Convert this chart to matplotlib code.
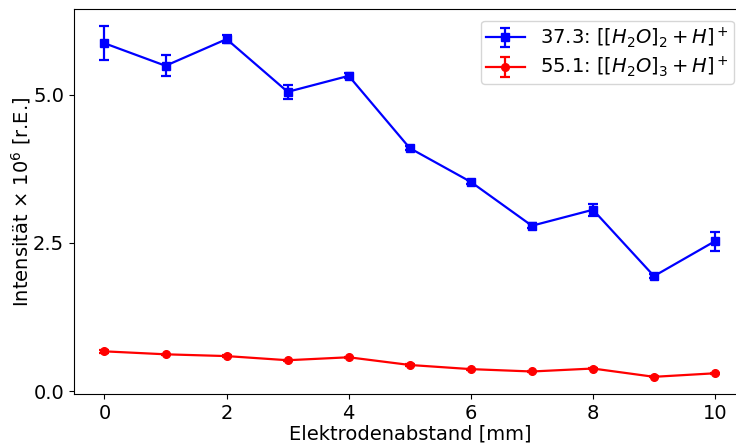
import matplotlib
matplotlib.use("Agg")
import matplotlib.pyplot as plt
import numpy as np

abstand = [0, 1, 2, 3, 4, 5, 6, 7, 8, 9, 10]

dimer = [5.87, 5.49, 5.94, 5.05, 5.32, 4.10, 3.53, 2.79, 3.06, 1.94, 2.53]
dimer_err = [0.29, 0.18, 0.07, 0.12, 0.04, 0.03, 0.03, 0.04, 0.10, 0.03, 0.16]

trimer = [0.67, 0.62, 0.59, 0.52, 0.57, 0.44, 0.37, 0.33, 0.38, 0.24, 0.30]
trimer_err = [0.03, 0.01, 0.01, 0.01, 0.01, 0.01, 0.01, 0.01, 0.01, 0.01, 0.01]

label_dimer = r"37.3: $[[H_2O]_2 + H]^+$"
label_trimer = r"55.1: $[[H_2O]_3 + H]^+$"

fig = plt.figure(figsize=(7.36, 4.45), dpi=100)
ax = fig.add_axes([0.1005, 0.1146, 0.9125, 0.8654])

ax.errorbar(abstand, dimer, yerr=dimer_err, color="blue", marker="s",
            markersize=6, linewidth=1.6, capsize=3.5, elinewidth=1.6,
            capthick=1.6, label=label_dimer)
ax.errorbar(abstand, trimer, yerr=trimer_err, color="red", marker="o",
            markersize=5.5, linewidth=1.6, capsize=3.5, elinewidth=1.6,
            capthick=1.6, label=label_trimer)

ax.set_xlim(-0.5, 10.5)
ax.set_ylim(-0.05, 6.45)
ax.set_xticks([0, 2, 4, 6, 8, 10])
ax.set_yticks([0.0, 2.5, 5.0])
ax.set_yticklabels(["0.0", "2.5", "5.0"])
ax.tick_params(labelsize=14)
ax.set_xlabel("Elektrodenabstand [mm]", fontsize=14, labelpad=1)
ax.set_ylabel(r"Intensität $\times$ $10^6$ [r.E.]", fontsize=14, labelpad=0)
ax.legend(loc="upper right", fontsize=14, labelspacing=0.25,
          borderpad=0.25, borderaxespad=0.6)

fig.savefig("out.png", dpi=100)
